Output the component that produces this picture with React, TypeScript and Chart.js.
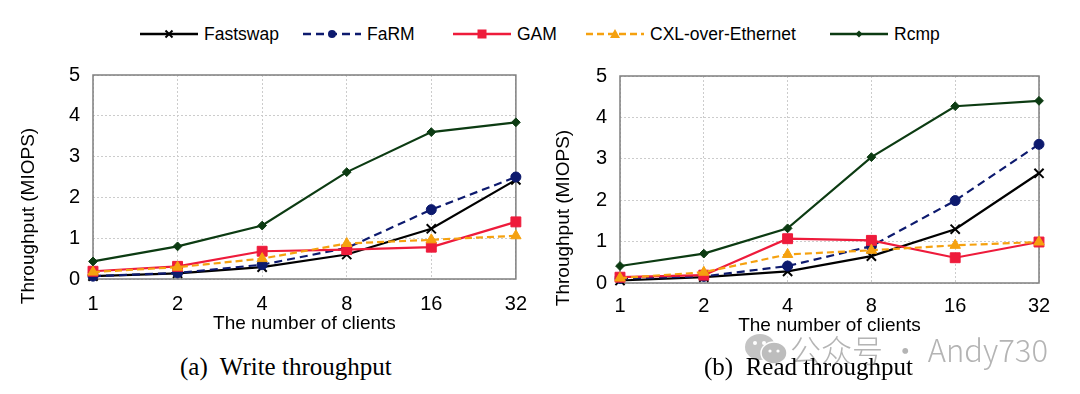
import React, { useEffect, useRef } from 'react';
import { Chart, registerables } from 'chart.js';

Chart.register(...registerables);

// ---------- data ----------
const clients = ['1', '2', '4', '8', '16', '32'];
const seriesNames = ['Fastswap', 'FaRM', 'GAM', 'CXL-over-Ethernet', 'Rcmp'];

const writeFastswap = [0.07, 0.14, 0.29, 0.6, 1.23, 2.43];
const writeFaRM = [0.07, 0.15, 0.35, 0.76, 1.7, 2.5];
const writeGAM = [0.19, 0.31, 0.68, 0.72, 0.78, 1.4];
const writeCXL = [0.17, 0.29, 0.5, 0.87, 0.96, 1.06];
const writeRcmp = [0.43, 0.8, 1.31, 2.62, 3.6, 3.84];

const readFastswap = [0.06, 0.14, 0.28, 0.65, 1.3, 2.65];
const readFaRM = [0.11, 0.16, 0.41, 0.89, 1.99, 3.35];
const readGAM = [0.14, 0.19, 1.07, 1.03, 0.61, 0.99];
const readCXL = [0.12, 0.26, 0.69, 0.79, 0.91, 0.99];
const readRcmp = [0.41, 0.71, 1.32, 3.04, 4.27, 4.4];

const yMin = 0;
const yMax = 5;
const yStep = 1;

const xTitle = 'The number of clients';
const yTitle = 'Throughput (MIOPS)';
const captionA = '(a)  Write throughput';
const captionB = '(b)  Read throughput';
const watermarkText = '公众号 · Andy730';

// ---------- styles ----------
const styles = [
  { color: '#000000', marker: 'crossRot', radius: 6.5, dash: [] as number[] },
  { color: '#0d1a6e', marker: 'circle', radius: 5, dash: [8, 5] },
  { color: '#ee1b3b', marker: 'rect', radius: 7, dash: [] as number[] },
  { color: '#f5a10f', marker: 'triangle', radius: 6, dash: [7, 4] },
  { color: '#0c3b12', marker: 'rectRot', radius: 4.4, dash: [] as number[] },
];

const FONT = '"Liberation Sans", Arial, sans-serif';

type Layout = {
  padTop: number;
  padRight: number;
  yWidth: number;
  xHeight: number;
  tickPadX: number;
  titlePadBottom: number;
  yTitleX: number;
  yTitleY: number;
};

function buildChart(canvas: HTMLCanvasElement, series: number[][], L: Layout) {
  const boxPlugin = {
    id: 'boxPlugin',
    beforeDatasetsDraw(chart: any) {
      const { ctx, chartArea } = chart;
      const { left, top, right, bottom } = chartArea;
      ctx.save();
      ctx.strokeStyle = '#7f7f7f';
      ctx.lineWidth = 1.5;
      ctx.setLineDash([]);
      ctx.strokeRect(left, top, right - left, bottom - top);
      ctx.restore();
    },
    afterDraw(chart: any) {
      const { ctx } = chart;
      ctx.save();
      ctx.translate(L.yTitleX, L.yTitleY);
      ctx.rotate(-Math.PI / 2);
      ctx.font = `19px ${FONT}`;
      ctx.fillStyle = '#000';
      ctx.textAlign = 'center';
      ctx.textBaseline = 'middle';
      ctx.fillText(yTitle, 0, 0);
      ctx.restore();
    },
  };

  return new Chart(canvas, {
    type: 'line',
    data: {
      labels: clients,
      datasets: series.map((values, i) => ({
        label: seriesNames[i],
        data: values,
        borderColor: styles[i].color,
        backgroundColor: styles[i].color,
        borderWidth: 2.2,
        borderDash: styles[i].dash,
        pointStyle: styles[i].marker as any,
        pointRadius: styles[i].radius,
        pointBorderWidth: styles[i].marker === 'crossRot' ? 2 : 1,
        pointBackgroundColor: styles[i].color,
        pointBorderColor: styles[i].color,
        tension: 0,
        clip: false as any,
        order: series.length - 1 - i,
      })),
    },
    options: {
      responsive: false,
      animation: false,
      events: [],
      layout: { padding: { left: 0, right: L.padRight, top: L.padTop, bottom: 0 } },
      plugins: {
        legend: { display: false },
        tooltip: { enabled: false },
        title: { display: false },
      },
      scales: {
        x: {
          type: 'category',
          offset: false,
          grid: { color: '#cccccc', lineWidth: 1, drawTicks: false },
          border: { display: false, dash: [2, 2] },
          ticks: {
            color: '#000',
            font: { family: FONT, size: 20 },
            padding: L.tickPadX,
            maxRotation: 0,
          },
          title: {
            display: true,
            text: xTitle,
            color: '#000',
            font: { family: FONT, size: 19 },
            padding: { top: 0, bottom: L.titlePadBottom },
          },
          afterFit(scale: any) {
            scale.height = L.xHeight;
          },
        },
        y: {
          min: yMin,
          max: yMax,
          grid: { color: '#cccccc', lineWidth: 1, drawTicks: false },
          border: { display: false, dash: [2, 2] },
          ticks: {
            stepSize: yStep,
            color: '#000',
            font: { family: FONT, size: 20 },
            padding: 13,
          },
          afterFit(scale: any) {
            scale.width = L.yWidth;
          },
        },
      },
    },
    plugins: [boxPlugin],
  });
}

function ChartPanel({ left, series, layout }: { left: number; series: number[][]; layout: Layout }) {
  const ref = useRef<HTMLCanvasElement | null>(null);
  useEffect(() => {
    if (!ref.current) return;
    const chart = buildChart(ref.current, series, layout);
    return () => chart.destroy();
  }, []);
  return (
    <canvas
      ref={ref}
      width={540}
      height={300}
      style={{ position: 'absolute', left, top: 50, width: 540, height: 300 }}
    />
  );
}

function LegendSymbol({ i }: { i: number }) {
  const s = styles[i];
  const cx = 29;
  const cy = 8;
  let marker: React.ReactNode = null;
  if (s.marker === 'crossRot') {
    marker = (
      <g stroke={s.color} strokeWidth={2}>
        <line x1={cx - 3.5} y1={cy - 3.5} x2={cx + 3.5} y2={cy + 3.5} />
        <line x1={cx - 3.5} y1={cy + 3.5} x2={cx + 3.5} y2={cy - 3.5} />
      </g>
    );
  } else if (s.marker === 'circle') {
    marker = <circle cx={cx} cy={cy} r={4} fill={s.color} />;
  } else if (s.marker === 'rect') {
    marker = <rect x={cx - 4.5} y={cy - 4.5} width={9} height={9} fill={s.color} />;
  } else if (s.marker === 'triangle') {
    marker = <polygon points={`${cx},${cy - 5} ${cx + 5},${cy + 4} ${cx - 5},${cy + 4}`} fill={s.color} />;
  } else {
    marker = <polygon points={`${cx},${cy - 3.5} ${cx + 3.5},${cy} ${cx},${cy + 3.5} ${cx - 3.5},${cy}`} fill={s.color} />;
  }
  return (
    <svg width={58} height={16} style={{ display: 'block' }}>
      <line
        x1={0}
        y1={cy}
        x2={58}
        y2={cy}
        stroke={s.color}
        strokeWidth={2.5}
        strokeDasharray={s.dash.length ? s.dash.join(' ') : undefined}
      />
      {marker}
    </svg>
  );
}

const legendLefts = [140, 303, 453, 586, 830];

export default function App() {
  const leftLayout: Layout = {
    padTop: 25,
    padRight: 12,
    yWidth: 93,
    xHeight: 71,
    tickPadX: 13,
    titlePadBottom: 14.9,
    yTitleX: 29,
    yTitleY: 166,
  };
  const rightLayout: Layout = {
    padTop: 26,
    padRight: 41,
    yWidth: 80,
    xHeight: 67,
    tickPadX: 11.5,
    titlePadBottom: 12.6,
    yTitleX: 24,
    yTitleY: 168,
  };

  return (
    <div
      style={{
        position: 'absolute',
        left: 0,
        top: 0,
        width: 1080,
        height: 394,
        background: '#fff',
        overflow: 'hidden',
      }}
    >
      {seriesNames.map((name, i) => (
        <div
          key={name}
          style={{
            position: 'absolute',
            left: legendLefts[i],
            top: 26,
            height: 16,
            display: 'flex',
            alignItems: 'center',
            whiteSpace: 'nowrap',
          }}
        >
          <LegendSymbol i={i} />
          <span
            style={{
              marginLeft: 6,
              fontFamily: FONT,
              fontSize: 17.5,
              lineHeight: '16px',
              color: '#000',
            }}
          >
            {name}
          </span>
        </div>
      ))}

      <ChartPanel left={0} series={[writeFastswap, writeFaRM, writeGAM, writeCXL, writeRcmp]} layout={leftLayout} />
      <ChartPanel left={540} series={[readFastswap, readFaRM, readGAM, readCXL, readRcmp]} layout={rightLayout} />

      {/* watermark */}
      <div
        style={{
          position: 'absolute',
          left: 744,
          top: 333,
          height: 32,
          display: 'flex',
          alignItems: 'center',
          whiteSpace: 'nowrap',
          color: '#b4b4b4',
        }}
      >
        <svg width={44} height={32} style={{ display: 'block' }}>
          <ellipse cx={16} cy={14} rx={15} ry={13} fill="#c4c4c4" />
          <ellipse cx={30} cy={20} rx={13} ry={11} fill="#bdbdbd" stroke="#fff" strokeWidth={1.5} />
          <circle cx={11} cy={10} r={2} fill="#fff" />
          <circle cx={20} cy={10} r={2} fill="#fff" />
          <circle cx={26} cy={18} r={1.6} fill="#fff" />
          <circle cx={34} cy={18} r={1.6} fill="#fff" />
        </svg>
        <span
          style={{
            marginLeft: 2,
            fontFamily: '"Noto Sans CJK SC", Roboto, sans-serif',
            fontWeight: 300,
            fontSize: 31,
            lineHeight: '32px',
          }}
        >
          {watermarkText}
        </span>
      </div>

      {/* captions */}
      <div
        style={{
          position: 'absolute',
          left: 180,
          width: 200,
          top: 351,
          textAlign: 'center',
          fontFamily: '"Liberation Serif", "Times New Roman", serif',
          fontSize: 25,
          lineHeight: '32px',
          whiteSpace: 'pre',
          color: '#000',
        }}
      >
        {captionA}
      </div>
      <div
        style={{
          position: 'absolute',
          left: 704,
          width: 200,
          top: 351,
          textAlign: 'center',
          fontFamily: '"Liberation Serif", "Times New Roman", serif',
          fontSize: 25,
          lineHeight: '32px',
          whiteSpace: 'pre',
          color: '#000',
        }}
      >
        {captionB}
      </div>
    </div>
  );
}
